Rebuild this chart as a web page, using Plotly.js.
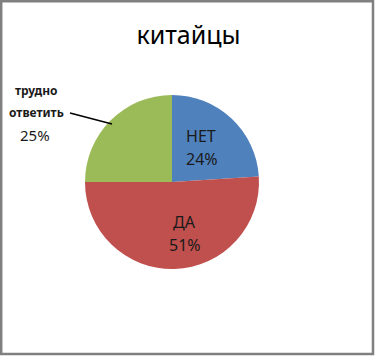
<!DOCTYPE html>
<html>
<head>
<meta charset="utf-8">
<script src="https://cdn.plot.ly/plotly-3.0.1.min.js"></script>
<style>html,body{margin:0;padding:0;background:#fff;}#chart{width:377px;height:356px;}</style>
</head>
<body>
<div id="chart"></div>
<script>
const titleText = 'китайцы';
const categories = ['НЕТ', 'ДА', 'трудно ответить'];
const values = [24, 51, 25];
const colors = ['#4F81BD', '#C0504D', '#9BBB59'];

const W = 377, H = 356;
const cx = 172, cy = 182, r = 87;
const px = x => x / W;
const py = y => 1 - y / H;
const FONT = 'Noto Sans, DejaVu Sans, sans-serif';

const total = values.reduce((a, b) => a + b, 0);
const pct = v => Math.round(v / total * 100) + '%';
const words = categories[2].split(' ');

const trace = {
  type: 'pie',
  labels: categories,
  values: values,
  sort: false,
  direction: 'clockwise',
  rotation: 0,
  marker: {colors: colors, line: {width: 0}},
  textinfo: 'none',
  hoverinfo: 'label+percent',
  showlegend: false,
  domain: {x: [px(cx - r), px(cx + r)], y: [py(cy + r), py(cy - r)]}
};

const annotations = [
  {x: px(201), y: py(136), text: categories[0], font: {size: 16, color: '#1a1a1a', family: FONT}},
  {x: px(202), y: py(159), text: pct(values[0]), font: {size: 16, color: '#1a1a1a', family: FONT}},
  {x: px(184), y: py(222), text: categories[1], font: {size: 16, color: '#1a1a1a', family: FONT}},
  {x: px(185), y: py(245), text: pct(values[1]), font: {size: 16, color: '#1a1a1a', family: FONT}},
  {x: px(36), y: py(90), text: '<b>' + words[0] + '</b>', font: {size: 12, color: '#1a1a1a', family: FONT}},
  {x: px(36), y: py(112), text: '<b>' + words[1] + '</b>', font: {size: 12, color: '#1a1a1a', family: FONT}},
  {x: px(35), y: py(135), text: pct(values[2]), font: {size: 15, color: '#1a1a1a', family: FONT}}
].map(a => Object.assign({xref: 'paper', yref: 'paper', showarrow: false, xanchor: 'center', yanchor: 'middle', align: 'center'}, a));

const layout = {
  width: W, height: H,
  margin: {l: 0, r: 0, t: 0, b: 0},
  paper_bgcolor: '#ffffff',
  title: {text: titleText, x: 0.5, xanchor: 'center', y: py(35), yanchor: 'middle', font: {size: 25, color: '#000000', family: FONT}},
  annotations: annotations,
  shapes: [
    {type: 'line', xref: 'paper', yref: 'paper', x0: px(70), y0: py(113), x1: px(112), y1: py(124), line: {color: '#000000', width: 1.5}},
    {type: 'rect', xref: 'paper', yref: 'paper', x0: px(1.2), y0: py(1.2), x1: px(373), y1: py(354), line: {color: '#808080', width: 2.5}}
  ]
};

Plotly.newPlot('chart', [trace], layout, {displayModeBar: false, staticPlot: true});
</script>
</body>
</html>
